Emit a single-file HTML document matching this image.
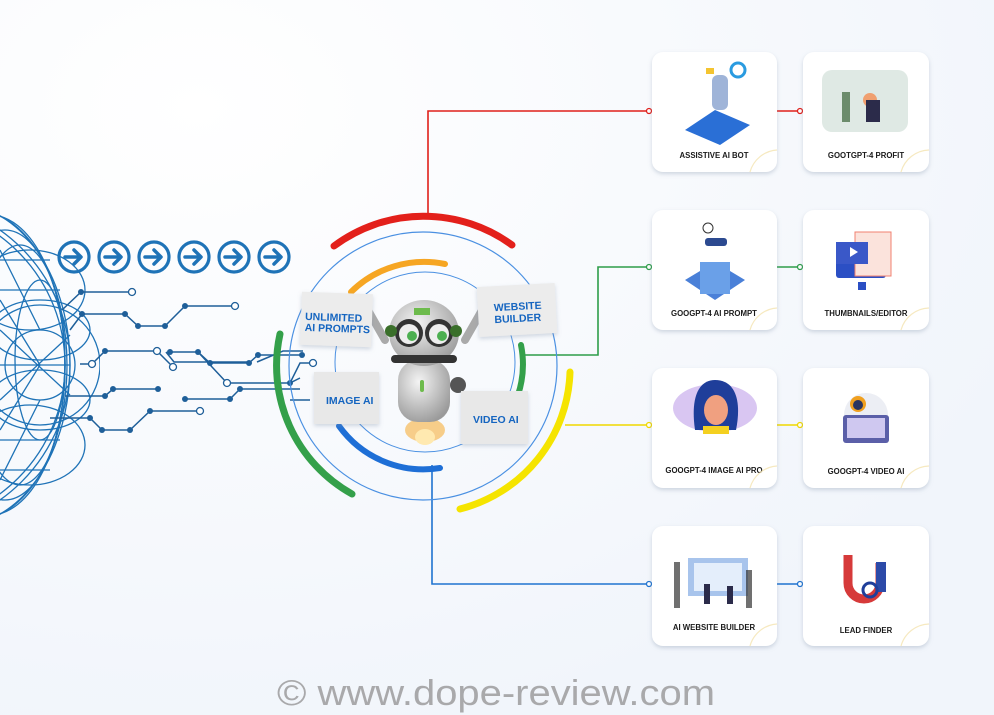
<!DOCTYPE html>
<html><head><meta charset="utf-8"><style>
html,body{margin:0;padding:0;width:994px;height:715px;overflow:hidden;background:#f4f7fc;}
svg{display:block}
.lbl{font-family:"Liberation Sans",sans-serif;font-weight:bold;font-size:7.8px;fill:#1a1a1a;text-anchor:middle}
.sg{font-family:"Liberation Sans",sans-serif;font-weight:900;font-size:10.5px;fill:#1565c0;}
</style></head><body>
<svg width="994" height="715" viewBox="0 0 994 715" xmlns="http://www.w3.org/2000/svg">
<defs>
<radialGradient id="bg" cx="0.2" cy="0.15" r="0.9"><stop offset="0" stop-color="#ffffff"/><stop offset="1" stop-color="#f1f5fb"/></radialGradient>
<filter id="sh" x="-20%" y="-20%" width="140%" height="150%"><feDropShadow dx="0" dy="2" stdDeviation="2" flood-color="#8090a8" flood-opacity="0.35"/></filter>
<radialGradient id="rb" cx="0.4" cy="0.35" r="0.7"><stop offset="0" stop-color="#f4f4f4"/><stop offset="1" stop-color="#9a9a9a"/></radialGradient>
</defs>
<rect width="994" height="715" fill="url(#bg)"/>

<!-- globe -->
<g fill="none" stroke="#1f73b7" stroke-width="1.3">
<clipPath id="gc"><rect x="0" y="0" width="100" height="715"/></clipPath>
<g clip-path="url(#gc)">
<circle cx="-95" cy="365" r="165"/>
<circle cx="-95" cy="365" r="160"/>
<ellipse cx="-40" cy="365" rx="110" ry="160"/>
<ellipse cx="-10" cy="365" rx="75" ry="150"/>
<ellipse cx="-25" cy="365" rx="92" ry="155"/>
<ellipse cx="20" cy="365" rx="45" ry="120"/>
<ellipse cx="5" cy="365" rx="60" ry="135"/>
<ellipse cx="40" cy="360" rx="25" ry="80"/>
<ellipse cx="40" cy="330" rx="50" ry="30"/>
<ellipse cx="40" cy="400" rx="50" ry="30"/>
<ellipse cx="30" cy="290" rx="55" ry="40"/>
<ellipse cx="30" cy="445" rx="55" ry="40"/>
<ellipse cx="40" cy="365" rx="60" ry="60"/>
<ellipse cx="40" cy="365" rx="35" ry="35"/>
<line x1="0" y1="250" x2="40" y2="330"/><line x1="0" y1="480" x2="40" y2="400"/>
<line x1="0" y1="300" x2="40" y2="365"/><line x1="0" y1="430" x2="40" y2="365"/>
<line x1="0" y1="365" x2="70" y2="365"/><line x1="0" y1="330" x2="70" y2="395"/>
<line x1="0" y1="400" x2="70" y2="335"/>
<line x1="0" y1="290" x2="60" y2="290"/><line x1="0" y1="440" x2="60" y2="440"/>
<line x1="0" y1="260" x2="50" y2="260"/><line x1="0" y1="470" x2="50" y2="470"/>
</g>
</g>

<!-- arrow circles -->
<g fill="none" stroke="#1f73b7" stroke-width="3.2">
<g id="ac"><circle cx="74" cy="257" r="15"/><path d="M65 257h15M74 250l7 7-7 7" stroke-width="3.5" stroke-linecap="round" stroke-linejoin="round"/></g>
<use href="#ac" x="40"/><use href="#ac" x="80"/><use href="#ac" x="120"/><use href="#ac" x="160"/><use href="#ac" x="200"/>
</g>

<!-- circuit -->
<g fill="none" stroke="#1f5f99" stroke-width="1.5">
<path d="M62 310 L81 292 H132"/>
<path d="M70 330 L82 314 H125 L138 326 H165 L185 306 H235"/>
<path d="M80 364 H92 L105 351 H157 L173 367"/>
<path d="M170 352 H198 L210 363 H249 L258 355 H302"/>
<path d="M166 352 L174 362 H250"/>
<path d="M198 352 L227 383 H290 L300 378"/>
<path d="M65 396 H105 L113 389 H158"/>
<path d="M185 399 H230 L240 389 H300"/>
<path d="M50 418 H90 L102 430 H130 L150 411 H200"/>
<path d="M257 362 L283 351 H303"/>
<path d="M290 383 L300 363 H313"/>
<path d="M290 400 H310"/>
</g>
<g fill="#1f5f99">
<circle cx="81" cy="292" r="3"/><circle cx="82" cy="314" r="3"/><circle cx="125" cy="314" r="3"/><circle cx="138" cy="326" r="3"/><circle cx="165" cy="326" r="3"/><circle cx="185" cy="306" r="3"/>
<circle cx="105" cy="351" r="3"/><circle cx="170" cy="352" r="3"/><circle cx="198" cy="352" r="3"/><circle cx="210" cy="363" r="3"/><circle cx="249" cy="363" r="3"/><circle cx="258" cy="355" r="3"/><circle cx="302" cy="355" r="3"/>
<circle cx="105" cy="396" r="3"/><circle cx="113" cy="389" r="3"/><circle cx="158" cy="389" r="3"/>
<circle cx="185" cy="399" r="3"/><circle cx="230" cy="399" r="3"/><circle cx="240" cy="389" r="3"/><circle cx="290" cy="383" r="3"/>
<circle cx="90" cy="418" r="3"/><circle cx="102" cy="430" r="3"/><circle cx="130" cy="430" r="3"/><circle cx="150" cy="411" r="3"/>
</g>
<g fill="#fff" stroke="#1f5f99" stroke-width="1.3">
<circle cx="132" cy="292" r="3.5"/><circle cx="235" cy="306" r="3.5"/><circle cx="92" cy="364" r="3.5"/><circle cx="157" cy="351" r="3.5"/><circle cx="173" cy="367" r="3.5"/><circle cx="227" cy="383" r="3.5"/><circle cx="200" cy="411" r="3.5"/><circle cx="313" cy="363" r="3.5"/>
</g>

<!-- connectors -->
<g fill="none" stroke-width="1.6">
<path d="M428 215 V111 H648 M777 111 H800" stroke="#e0201b"/>
<path d="M522 355 H598 V267 H648 M777 267 H800" stroke="#2e9d4a"/>
<path d="M565 425 H648 M777 425 H800" stroke="#f0d800"/>
<path d="M432 465 V584 H648 M777 584 H800" stroke="#1f73d0"/>
</g>
<g fill="#fff" stroke-width="1.3">
<circle cx="649" cy="111" r="2.5" stroke="#e0201b"/><circle cx="800" cy="111" r="2.5" stroke="#e0201b"/>
<circle cx="649" cy="267" r="2.5" stroke="#2e9d4a"/><circle cx="800" cy="267" r="2.5" stroke="#2e9d4a"/>
<circle cx="649" cy="425" r="2.5" stroke="#f0d800"/><circle cx="800" cy="425" r="2.5" stroke="#f0d800"/>
<circle cx="649" cy="584" r="2.5" stroke="#1f73d0"/><circle cx="800" cy="584" r="2.5" stroke="#1f73d0"/>
</g>

<!-- central circles -->
<g fill="none">
<circle cx="423" cy="366" r="134" stroke="#4a90e2" stroke-width="1.2"/>
<circle cx="425" cy="362" r="90" stroke="#4a90e2" stroke-width="1"/>
<path d="M334 246 A150 150 0 0 1 512 245" stroke="#e3201b" stroke-width="7" stroke-linecap="round"/>
<path d="M351 292 A104 104 0 0 1 445 264" stroke="#f6a623" stroke-width="6" stroke-linecap="round"/>
<path d="M280 334 A147 147 0 0 0 352 494" stroke="#34a04a" stroke-width="7" stroke-linecap="round"/>
<path d="M521 345 A98 98 0 0 1 518 395" stroke="#34a04a" stroke-width="6" stroke-linecap="round"/>
<path d="M570 372 A146 146 0 0 1 460 509" stroke="#f5e400" stroke-width="7" stroke-linecap="round"/>
<path d="M339 426 A104 104 0 0 0 440 468" stroke="#1e6fd6" stroke-width="6" stroke-linecap="round"/>
</g>

<!-- robot -->
<g>
<ellipse cx="425" cy="430" rx="20" ry="12" fill="#f6c26b" opacity="0.8"/>
<ellipse cx="425" cy="437" rx="10" ry="8" fill="#ffe9b0"/>
<path d="M385 340 L365 305 M465 340 L485 305" stroke="#aaa" stroke-width="8" stroke-linecap="round"/>
<rect x="398" y="360" width="52" height="62" rx="20" fill="url(#rb)"/>
<ellipse cx="424" cy="333" rx="35" ry="33" fill="url(#rb)"/>
<rect x="391" y="355" width="66" height="8" rx="4" fill="#333"/>
<circle cx="409" cy="333" r="14" fill="#333"/><circle cx="439" cy="333" r="14" fill="#333"/>
<circle cx="409" cy="334" r="10" fill="#eee"/><circle cx="439" cy="334" r="10" fill="#eee"/>
<circle cx="412" cy="336" r="5" fill="#4caf50"/><circle cx="442" cy="336" r="5" fill="#4caf50"/>
<circle cx="456" cy="331" r="6" fill="#3a6f2a"/><circle cx="391" cy="331" r="6" fill="#3a6f2a"/>
<rect x="414" y="308" width="16" height="7" fill="#6dbb4c"/>
<circle cx="458" cy="385" r="8" fill="#555"/>
<rect x="420" y="380" width="4" height="12" rx="2" fill="#6dbb4c"/>
</g>

<!-- signs -->
<g filter="url(#sh)">
<rect x="301" y="293" width="71" height="53" fill="#ececec" transform="rotate(2 336 320)"/>
<rect x="478" y="285" width="78" height="50" fill="#ececec" transform="rotate(-3 517 310)"/>
<rect x="314" y="372" width="65" height="52" fill="#e8e8e8"/>
<rect x="461" y="391" width="67" height="53" fill="#e8e8e8"/>
</g>
<text class="sg" x="305" y="321" transform="rotate(2 336 320)">UNLIMITED</text>
<text class="sg" x="305" y="332" transform="rotate(2 336 320)">AI PROMPTS</text>
<text class="sg" x="494" y="310" transform="rotate(-3 517 310)">WEBSITE</text>
<text class="sg" x="494" y="322" transform="rotate(-3 517 310)">BUILDER</text>
<text class="sg" x="326" y="404">IMAGE AI</text>
<text class="sg" x="473" y="423">VIDEO AI</text>

<!-- cards -->
<g filter="url(#sh)" fill="#fff">
<rect x="652" y="52" width="125" height="120" rx="11"/><rect x="803" y="52" width="126" height="120" rx="11"/>
<rect x="652" y="210" width="125" height="120" rx="11"/><rect x="803" y="210" width="126" height="120" rx="11"/>
<rect x="652" y="368" width="125" height="120" rx="11"/><rect x="803" y="368" width="126" height="120" rx="11"/>
<rect x="652" y="526" width="125" height="120" rx="11"/><rect x="803" y="526" width="126" height="120" rx="11"/>
</g>
<!-- illustrations -->
<g>
<path d="M685 130 L715 110 L750 125 L720 145Z" fill="#2a6fd6"/><rect x="712" y="75" width="16" height="35" rx="6" fill="#9fb4d8"/><circle cx="738" cy="70" r="7" fill="none" stroke="#2a9be0" stroke-width="3"/><rect x="706" y="68" width="8" height="6" fill="#f4c430"/>
<rect x="822" y="70" width="86" height="62" rx="10" fill="#dfe9e4"/><circle cx="870" cy="100" r="7" fill="#f0a070"/><rect x="842" y="92" width="8" height="30" fill="#6c8c6c"/><rect x="866" y="100" width="14" height="22" fill="#2b2b4a"/>
<path d="M685 280 L715 262 L745 280 L715 300Z" fill="#4a80d8"/><rect x="700" y="262" width="30" height="32" fill="#6aa0e8"/><rect x="705" y="238" width="22" height="8" rx="3" fill="#2c4a90"/><circle cx="708" cy="228" r="5" fill="none" stroke="#333"/>
<rect x="836" y="242" width="50" height="36" rx="3" fill="#2b4fc4"/><rect x="855" y="232" width="36" height="44" fill="#fbe3dc" stroke="#f08070"/><rect x="836" y="242" width="32" height="22" fill="#3a58c8"/><path d="M850 247v10l8-5z" fill="#fff"/><rect x="858" y="282" width="8" height="8" fill="#2b4fc4"/>
<ellipse cx="715" cy="408" rx="42" ry="24" fill="#d9c6f2"/><path d="M695 430 C690 395 700 380 715 380 C735 380 742 400 736 430Z" fill="#1f3e9a"/><ellipse cx="716" cy="410" rx="12" ry="15" fill="#f0a080"/><rect x="703" y="426" width="26" height="8" fill="#f4d020"/>
<circle cx="866" cy="415" r="22" fill="#eceef4"/><rect x="843" y="415" width="46" height="28" rx="3" fill="#5b5fa8"/><rect x="847" y="418" width="38" height="20" fill="#cfc8f0"/><circle cx="858" cy="404" r="8" fill="#f0a020"/><circle cx="858" cy="405" r="5" fill="#2b3560"/>
<rect x="688" y="558" width="60" height="38" fill="#a8c4ec"/><rect x="694" y="563" width="48" height="28" fill="#e4eefb"/><rect x="674" y="562" width="6" height="46" fill="#333" opacity="0.7"/><rect x="746" y="570" width="6" height="38" fill="#333" opacity="0.7"/><rect x="704" y="584" width="6" height="20" fill="#2b2b4a"/><rect x="727" y="586" width="6" height="18" fill="#2b2b4a"/>
<path d="M848 555 v28 a16 16 0 0 0 32 0 v-20" fill="none" stroke="#d63a3a" stroke-width="9"/><rect x="876" y="562" width="10" height="30" fill="#2c4aa8"/><circle cx="870" cy="590" r="7" fill="none" stroke="#1f3e9a" stroke-width="3"/>
</g>
<g class="lbl">
<text class="lbl" x="714" y="158">ASSISTIVE AI BOT</text><text class="lbl" x="866" y="158">GOOTGPT-4 PROFIT</text>
<text class="lbl" x="714" y="316">GOOGPT-4 AI PROMPT</text><text class="lbl" x="866" y="316">THUMBNAILS/EDITOR</text>
<text class="lbl" x="714" y="473">GOOGPT-4 IMAGE AI PRO</text><text class="lbl" x="866" y="474">GOOGPT-4 VIDEO AI</text>
<text class="lbl" x="714" y="630">AI WEBSITE BUILDER</text><text class="lbl" x="866" y="633">LEAD FINDER</text>
</g>
<g fill="none" stroke="#f4e3b0" stroke-width="1.2" opacity="0.8">
<path d="M750 172 a30 30 0 0 1 27 -22"/><path d="M901 172 a30 30 0 0 1 28 -22"/>
<path d="M750 330 a30 30 0 0 1 27 -22"/><path d="M901 330 a30 30 0 0 1 28 -22"/>
<path d="M750 488 a30 30 0 0 1 27 -22"/><path d="M901 488 a30 30 0 0 1 28 -22"/>
<path d="M750 646 a30 30 0 0 1 27 -22"/><path d="M901 646 a30 30 0 0 1 28 -22"/>
</g>

<text x="277" y="705" font-family="'Liberation Sans',sans-serif" font-size="36" fill="#a9a9ab" textLength="438" lengthAdjust="spacingAndGlyphs">© www.dope-review.com</text>
</svg>
</body></html>
